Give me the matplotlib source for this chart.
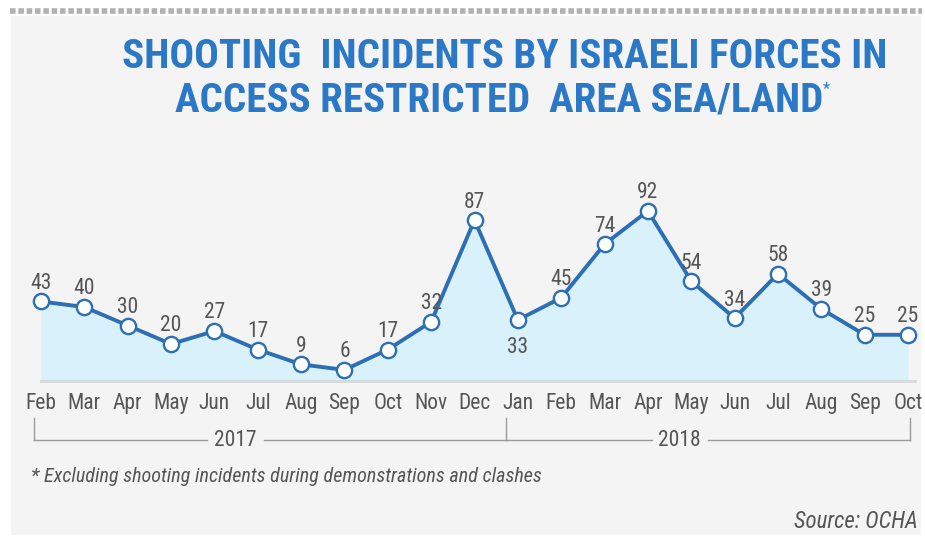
import matplotlib
matplotlib.use('Agg')
import matplotlib.pyplot as plt
from matplotlib.patches import Rectangle

# data
months = ['Feb', 'Mar', 'Apr', 'May', 'Jun', 'Jul', 'Aug', 'Sep', 'Oct', 'Nov', 'Dec',
          'Jan', 'Feb', 'Mar', 'Apr', 'May', 'Jun', 'Jul', 'Aug', 'Sep', 'Oct']
incidents = [43, 40, 30, 20, 27, 17, 9, 6, 17, 32, 87,
             33, 45, 74, 92, 54, 34, 58, 39, 25, 25]
years = ['2017', '2018']
year_start = [0, 11]

cond = ['Roboto Condensed', 'DejaVu Sans']
blue = '#2a78c6'
line_blue = '#2d6fb4'
grey_txt = '#555555'
grey_line = '#9a9a9a'

fig = plt.figure(figsize=(9.25, 5.5), dpi=100)
fig.patch.set_facecolor('white')

# light panel and dashed top border
fig.patches.append(Rectangle((11 / 925, 15 / 550), 910 / 925, 519 / 550,
                             transform=fig.transFigure, facecolor='#f4f4f4',
                             edgecolor='none', zorder=-5))
fig.add_artist(plt.Line2D([10 / 925, 922 / 925], [1 - 11 / 550, 1 - 11 / 550],
                          transform=fig.transFigure, color='#b0b0b0', lw=4,
                          linestyle=(0, (1, 0.5)), zorder=-4))

ax = fig.add_axes([0, 0, 1, 1], zorder=2)
ax.set_facecolor('none')
ax.axis('off')
ax.set_xlim(-41 / 43.35, (925 - 41) / 43.35)
ax.set_ylim(-(550 - 381) / 1.849, 381 / 1.849)

x = list(range(len(incidents)))
ax.fill_between(x, incidents, 0, color='#d8f1fb', zorder=2, lw=0)
ax.plot([x[0], x[-1] + 0.15], [0, 0], color='#d5dadd', lw=2, zorder=2)
ax.plot(x, incidents, color=line_blue, lw=2.8, zorder=3,
        marker='o', markersize=11, markerfacecolor='white',
        markeredgecolor=line_blue, markeredgewidth=1.7)

for i, v in zip(x, incidents):
    if months[i] == 'Jan':
        ax.text(i, v - 15, str(v), ha='center', va='center', fontsize=15.5,
                family=cond, color=grey_txt, zorder=4)
    else:
        ax.text(i, v + 9.8, str(v), ha='center', va='center', fontsize=15.5,
                family=cond, color=grey_txt, zorder=4)

for i, m in zip(x, months):
    ax.text(i, -12, m, ha='center', va='center', fontsize=15.5, family=cond,
            color=grey_txt)

# year brackets
bracket_y = -32
top_y = -20
ends = [x[0] - 0.15, year_start[1] - 0.28, x[-1] + 0.05]
shift = [-0.8, -0.65]
for e in ends:
    ax.plot([e, e], [top_y, bracket_y], color=grey_line, lw=1)
for k, yr in enumerate(years):
    a, b = ends[k], ends[k + 1]
    mid = (a + b) / 2 + shift[k]
    ax.plot([a, mid - 0.65], [bracket_y, bracket_y], color=grey_line, lw=1)
    ax.plot([mid + 0.65, b], [bracket_y, bracket_y], color=grey_line, lw=1)
    ax.text(mid, bracket_y, yr, ha='center', va='center', fontsize=15.5,
            family=cond, color=grey_txt)

# titles and notes
fig.text(505 / 925, 1 - 57 / 550, 'SHOOTING  INCIDENTS BY ISRAELI FORCES IN',
         ha='center', va='center', fontsize=29.5, fontweight='bold',
         family=cond, color=blue)
fig.text(499 / 925, 1 - 101 / 550, 'ACCESS RESTRICTED  AREA SEA/LAND',
         ha='center', va='center', fontsize=29.5, fontweight='bold',
         family=cond, color=blue)
fig.text(826 / 925, 1 - 89 / 550, '*', ha='center', va='center', fontsize=12,
         family=cond, color=blue)
fig.text(31 / 925, 1 - 477 / 550,
         '* Excluding shooting incidents during demonstrations and clashes',
         ha='left', va='center', fontsize=14.5, style='italic', family=cond,
         color=grey_txt)
fig.text(918 / 925, 1 - 521 / 550, 'Source: OCHA', ha='right', va='center',
         fontsize=16.5, style='italic', family=cond, color=grey_txt)

fig.savefig('out.png', dpi=100, facecolor='white')
